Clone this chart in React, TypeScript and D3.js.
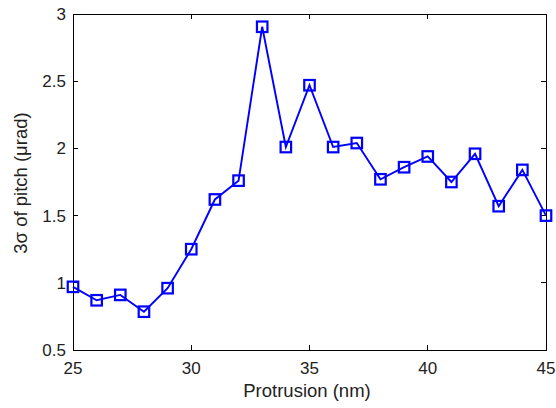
import React, { useEffect, useRef } from 'react'
import * as d3 from 'd3'

// protrusion (nm) and 3-sigma pitch (urad)
const protrusion = [25, 26, 27, 28, 29, 30, 31, 32, 33, 34, 35, 36, 37, 38, 39, 40, 41, 42, 43, 44, 45]
const sigmaPitch = [0.97, 0.87, 0.91, 0.785, 0.96, 1.25, 1.62, 1.76, 2.905, 2.01, 2.47, 2.01, 2.04, 1.77, 1.86, 1.94, 1.75, 1.96, 1.57, 1.84, 1.5]
const xTicks = [25, 30, 35, 40, 45]
const yTicks = [0.5, 1, 1.5, 2, 2.5, 3]

const App = () => {
    const ref = useRef<SVGSVGElement>(null)

    useEffect(() => {
        const width = 556
        const height = 408
        const m = { left: 73, right: 10, top: 14, bottom: 58 }

        const svg = d3.select(ref.current)
        svg.selectAll('*').remove()
        svg.attr('width', width).attr('height', height)

        const x = d3.scaleLinear().domain([25, 45]).range([m.left, width - m.right])
        const y = d3.scaleLinear().domain([0.5, 3]).range([height - m.bottom, m.top])

        svg.append('rect')
            .attr('width', width).attr('height', height)
            .attr('fill', 'white')

        const font = 'Liberation Sans, Arial, sans-serif'
        const tick = 5

        // box + ticks
        const g = svg.append('g').attr('stroke', 'black').attr('stroke-width', 1).attr('shape-rendering', 'crispEdges')
        g.append('rect')
            .attr('x', x(25)).attr('y', y(3))
            .attr('width', x(45) - x(25)).attr('height', y(0.5) - y(3))
            .attr('fill', 'none')

        g.selectAll('.xb').data(xTicks).join('line')
            .attr('x1', d => x(d)).attr('x2', d => x(d))
            .attr('y1', y(0.5)).attr('y2', y(0.5) - tick)
        g.selectAll('.xt').data(xTicks).join('line')
            .attr('x1', d => x(d)).attr('x2', d => x(d))
            .attr('y1', y(3)).attr('y2', y(3) + tick)
        g.selectAll('.yl').data(yTicks).join('line')
            .attr('x1', x(25)).attr('x2', x(25) + tick)
            .attr('y1', d => y(d)).attr('y2', d => y(d))
        g.selectAll('.yr').data(yTicks).join('line')
            .attr('x1', x(45)).attr('x2', x(45) - tick)
            .attr('y1', d => y(d)).attr('y2', d => y(d))

        svg.append('g')
            .attr('font-family', font).attr('font-size', 17).attr('fill', '#222')
            .attr('text-anchor', 'middle')
            .selectAll('text').data(xTicks).join('text')
            .attr('x', d => x(d)).attr('y', y(0.5) + 24)
            .text(d => d)

        svg.append('g')
            .attr('font-family', font).attr('font-size', 17).attr('fill', '#222')
            .attr('text-anchor', 'end')
            .selectAll('text').data(yTicks).join('text')
            .attr('x', x(25) - 7).attr('y', d => y(d)).attr('dy', '0.35em')
            .text(d => d)

        svg.append('text')
            .attr('font-family', font).attr('font-size', 18.5).attr('fill', '#222')
            .attr('text-anchor', 'middle')
            .attr('x', 307).attr('y', y(0.5) + 47)
            .text('Protrusion (nm)')

        svg.append('text')
            .attr('font-family', font).attr('font-size', 18.5).attr('fill', '#222')
            .attr('text-anchor', 'middle')
            .attr('transform', `translate(27,183) rotate(-90)`)
            .text('3σ of pitch (μrad)')

        const pts = protrusion.map((p, i) => [p, sigmaPitch[i]] as [number, number])
        const line = d3.line<[number, number]>().x(d => x(d[0])).y(d => y(d[1]))

        svg.append('path')
            .attr('d', line(pts))
            .attr('fill', 'none')
            .attr('stroke', '#0000ff')
            .attr('stroke-width', 1.9)

        const s = 10.5
        svg.append('g')
            .selectAll('rect').data(pts).join('rect')
            .attr('x', d => x(d[0]) - s / 2).attr('y', d => y(d[1]) - s / 2)
            .attr('width', s).attr('height', s)
            .attr('fill', 'none')
            .attr('stroke', '#0000ff')
            .attr('stroke-width', 2.2)
    }, [])

    return <svg ref={ref} style={{ position: 'absolute', left: 0, top: 0 }} />
}

export default App
